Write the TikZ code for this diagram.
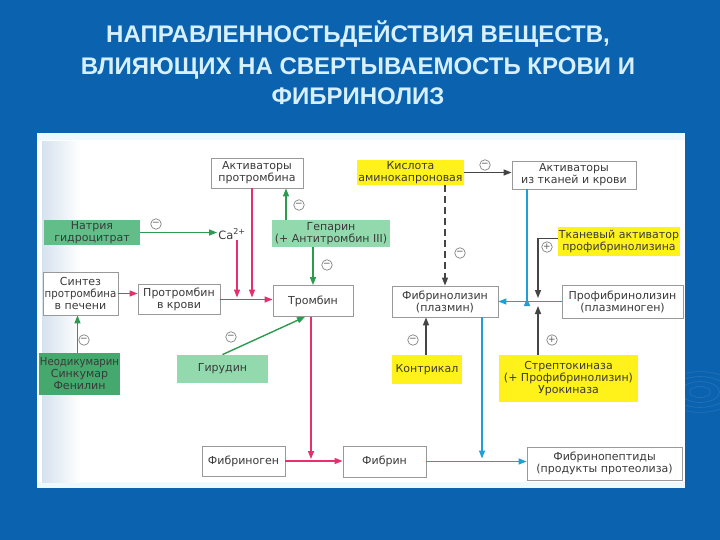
\documentclass[tikz,border=0pt]{standalone}
\usepackage{fontspec}
\setmainfont{DejaVu Sans}
\newfontfamily\titlefont{Liberation Sans}
\usetikzlibrary{arrows.meta,calc}
\definecolor{bgblue}{HTML}{0B62AE}
\definecolor{titlecol}{HTML}{D6F0FF}
\definecolor{pinkc}{HTML}{E5306C}
\definecolor{greenc}{HTML}{2E9A50}
\definecolor{bluec}{HTML}{1E9FDC}
\definecolor{darkc}{HTML}{454545}
\definecolor{yel}{HTML}{FFF21A}
\definecolor{gmid}{HTML}{62BE88}
\definecolor{gdark}{HTML}{45A86C}
\definecolor{glight}{HTML}{92DAAE}
\definecolor{txt}{HTML}{3A3A3A}
\definecolor{stripe}{RGB}{214,226,238}
\tikzset{
  bx/.style={draw=black!40, line width=0.8pt, fill=white, inner sep=1pt, align=center,
    text=txt, font=\fontsize{11}{12}\selectfont},
  ybx/.style={bx, draw=none, fill=yel},
  gbx/.style={bx, draw=none, fill=#1},
  arr/.style={-{Triangle[length=8pt,width=6pt]}, line width=1.4pt},
  pk/.style={arr, draw=pinkc, color=pinkc},
  gr/.style={arr, draw=greenc, color=greenc},
  bl/.style={arr, draw=bluec, color=bluec},
  dk/.style={arr, draw=darkc, color=darkc},
  sgn/.style={circle, draw=black!55, line width=0.6pt, inner sep=0pt, minimum size=10.5pt,
    text=black!65, font=\fontsize{9}{9}\selectfont},
  ttl/.style={anchor=base, text=titlecol, font=\titlefont\bfseries\fontsize{24}{26}\selectfont}
}
\begin{document}
\begin{tikzpicture}[x=1pt,y=-1pt]
\useasboundingbox (0,0) rectangle (720,540);
\fill[bgblue] (0,0) rectangle (720,540);
% faint ripples
\foreach \r in {8,15,22,29}{
  \draw[white, opacity=0.09, line width=0.8pt] (700,392) ellipse ({\r*1.3} and {\r*0.7});
}
% title
\node[ttl] (t1) at (358,43) {НАПРАВЛЕННОСТЬДЕЙСТВИЯ ВЕЩЕСТВ,};
\node[ttl] (t2) at (358,75) {ВЛИЯЮЩИХ НА СВЕРТЫВАЕМОСТЬ КРОВИ И};
\node[ttl] (t3) at (358,105) {ФИБРИНОЛИЗ};
% white panel
\fill[white] (37,133) rectangle (685,488);
\fill[cyan!7] (37,133) rectangle (685,140);
\fill[cyan!7] (37,482) rectangle (685,488);
\shade[left color=stripe, right color=white] (42,142) rectangle (80,482);

% nodes
\node[bx, minimum width=92pt, minimum height=30pt] (apt) at (257,173) {Активаторы\\протромбина};
\node[ybx, minimum width=103pt, minimum height=25pt] (kis) at (410.5,172.5) {Кислота\\аминокапроновая};
\node[bx, minimum width=124pt, minimum height=28pt] (atk) at (574,175) {Активаторы\\из тканей и крови};
\node[gbx=gmid, minimum width=96pt, minimum height=25pt] (nat) at (92,232.5) {Натрия\\гидроцитрат};
\node[inner sep=1pt, text=txt, font=\fontsize{11.5}{12}\selectfont] (ca) at (232,234) {Ca\textsuperscript{2+}};
\node[gbx=glight, minimum width=118pt, minimum height=27pt] (gep) at (331,233.5) {Гепарин\\(+ Антитромбин III)};
\node[ybx, minimum width=122pt, minimum height=29pt] (tka) at (619,241.5) {Тканевый активатор\\профибринолизина};
\node[bx, minimum width=75pt, minimum height=43pt] (sin) at (80.5,293.5) {Синтез\\\scalebox{0.93}[1]{протромбина}\\в печени};
\node[bx, minimum width=82pt, minimum height=30pt] (prk) at (179,299.5) {Протромбин\\в крови};
\node[bx, minimum width=80pt, minimum height=31pt] (trm) at (313,301) {Тромбин};
\node[bx, minimum width=106pt, minimum height=31pt] (fbl) at (445,301.5) {Фибринолизин\\(плазмин)};
\node[bx, minimum width=121pt, minimum height=33pt] (pfb) at (622.5,301.5) {Профибринолизин\\(плазминоген)};
\node[gbx=gdark, minimum width=75pt, minimum height=42pt] (neo) at (79.5,374) {\scalebox{0.92}[1]{Неодикумарин}\\Синкумар\\Фенилин};
\node[gbx=glight, minimum width=91pt, minimum height=28pt] (gir) at (222.5,369) {Гирудин};
\node[ybx, minimum width=70pt, minimum height=29pt] (kon) at (427,369.5) {Контрикал};
\node[ybx, minimum width=139pt, minimum height=47pt] (str) at (568.5,378.5) {Стрептокиназа\\(+ Профибринолизин)\\Урокиназа};
\node[bx, minimum width=83pt, minimum height=30pt] (fbg) at (243.5,461) {Фибриноген};
\node[bx, minimum width=83pt, minimum height=31pt] (fbn) at (384.5,461.5) {Фибрин};
\node[bx, minimum width=155pt, minimum height=33pt] (fpp) at (604.5,463.5) {Фибринопептиды\\(продукты протеолиза)};
\coordinate (jn) at (538,302);

% pink: coagulation
\draw[pk] (sin.east) -- (sin.east -| prk.west);
\draw[pk] (prk.east) -- (prk.east -| trm.west);
\draw[pk, shorten >=2pt] ([xshift=5pt]ca.south) -- ([xshift=5pt]ca.south |- prk.east);
\draw[pk, shorten >=2pt] ([xshift=-5pt]apt.south) -- ([xshift=-5pt]apt.south |- prk.east);
\draw[pk, shorten >=2pt] ([xshift=-2pt]trm.south) -- ([xshift=-2pt]trm.south |- fbg.east);
\draw[pk] (fbg.east) -- (fbg.east -| fbn.west);

% green: anticoagulants
\draw[gr] (nat.east) -- (nat.east -| ca.west);
\draw[gr] ([xshift=-45pt]gep.north) -- ([xshift=29pt]apt.south);
\draw[gr] (trm.north |- gep.south) -- (trm.north);
\draw[gr] ([xshift=-2pt]neo.north) -- ([xshift=-2pt]neo.north |- sin.south);
\draw[gr] (gir.north) -- ([xshift=-8pt]trm.south);

% dark: fibrinolysis regulators
\draw[dk] (kis.east) -- (kis.east -| atk.west);
\draw[dk, dash pattern=on 7pt off 4pt] (fbl.north |- kis.south) -- (fbl.north);
\draw[dk] ([yshift=3pt]tka.west) -| ([yshift=4pt]jn);
\draw[dk] (str.north -| jn) -- ([yshift=-4pt]jn);
\draw[dk] ([xshift=-1pt]kon.north) -- ([xshift=-1pt]kon.north |- fbl.south);

% blue: fibrinolysis
\draw[bl] ([xshift=-47pt]atk.south) -- ([xshift=-47pt]atk.south |- jn) -- +(0,-4);
\draw[bl] (pfb.west) -- (pfb.west -| fbl.east);
\draw[bl, shorten >=3pt] ([xshift=37pt]fbl.south) -- ([xshift=37pt]fbl.south |- fbn.east);
\draw[bl] (fbn.east) -- (fbn.east -| fpp.west);

% signs
\node[sgn] (s1) at (485,165) {−};
\node[sgn] (s2) at (156,224) {−};
\node[sgn] (s3) at (299,205) {−};
\node[sgn] (s4) at (327,265) {−};
\node[sgn] (s5) at (460,253) {−};
\node[sgn] (s6) at (547,247) {+};
\node[sgn] (s7) at (84,340) {−};
\node[sgn] (s8) at (231,337) {−};
\node[sgn] (s9) at (413,340) {−};
\node[sgn] (s10) at (552,340) {+};
\end{tikzpicture}
\end{document}
